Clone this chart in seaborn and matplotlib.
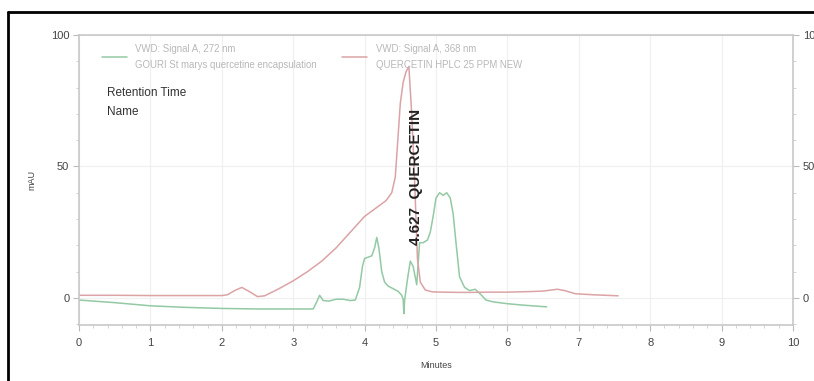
import numpy as np
import pandas as pd
import matplotlib
matplotlib.use("Agg")
import matplotlib.pyplot as plt
from matplotlib.ticker import MultipleLocator
from matplotlib.lines import Line2D
import seaborn as sns

# ---- data ----
t_272 = [0, 0.5, 1.0, 1.5, 2.0, 2.5, 3.0, 3.28, 3.33, 3.37, 3.42, 3.5, 3.6, 3.7, 3.8, 3.87,
         3.93, 3.97, 4.0, 4.05, 4.1, 4.14, 4.17, 4.2, 4.24, 4.28, 4.33, 4.4, 4.47, 4.52,
         4.54, 4.55, 4.56, 4.6, 4.64, 4.68, 4.73, 4.77, 4.82, 4.88, 4.92, 4.96, 5.0, 5.05,
         5.1, 5.15, 5.2, 5.24, 5.28, 5.33, 5.4, 5.47, 5.55, 5.62, 5.7, 5.8, 6.0, 6.2, 6.4, 6.55]
v_272 = [-0.8, -1.8, -3.0, -3.6, -4.0, -4.2, -4.2, -4.2, -1.5, 1.0, -1.0, -1.2, -0.5, -0.5,
         -1.0, -0.8, 4, 12, 15, 15.5, 16, 19, 23, 19, 10, 6, 4.5, 3.5, 2.5, 1, -0.5, -6, -1,
         7, 14, 12, 5, 21, 21, 22, 25, 31, 38, 40, 39, 40, 38, 32, 21, 8, 4, 2.8, 3.3, 1.5,
         -0.8, -1.5, -2.2, -2.7, -3.1, -3.4]

t_368 = [0, 0.5, 1.0, 1.5, 2.0, 2.08, 2.18, 2.28, 2.38, 2.5, 2.6, 2.8, 3.0, 3.2, 3.4, 3.6,
         3.8, 4.0, 4.15, 4.3, 4.38, 4.43, 4.47, 4.5, 4.54, 4.58, 4.62, 4.66, 4.7, 4.74, 4.78,
         4.85, 4.95, 5.1, 5.3, 5.5, 5.7, 6.0, 6.3, 6.5, 6.7, 6.8, 6.95, 7.2, 7.55]
v_368 = [1.0, 1.0, 0.9, 0.9, 0.9, 1.2, 2.8, 4.0, 2.5, 0.5, 0.8, 3.5, 6.5, 10, 14, 19, 25, 31,
         34, 37, 40, 46, 62, 74, 82, 86, 88, 70, 45, 15, 6, 3, 2.3, 2.2, 2.1, 2.1, 2.2, 2.2,
         2.4, 2.6, 3.3, 2.8, 1.6, 1.2, 0.8]

series_names = ["VWD: Signal A, 272 nm\nGOURI St marys quercetine encapsulation",
                "VWD: Signal A, 368 nm\nQUERCETIN HPLC 25 PPM NEW"]
series_colors = ["#93c9a4", "#dba3a6"]

x_ticks = list(range(0, 11))
y_ticks = [0, 50, 100]
peak_label = "4.627  QUERCETIN"

df = pd.concat([
    pd.DataFrame({"Minutes": t_272, "mAU": v_272, "series": series_names[0]}),
    pd.DataFrame({"Minutes": t_368, "mAU": v_368, "series": series_names[1]}),
], ignore_index=True)

sns.set_theme(style="white")
plt.rcParams["font.family"] = ["Liberation Sans", "DejaVu Sans"]

fig = plt.figure(figsize=(8.14, 3.81), dpi=100)
ax = fig.add_axes([79/814, 1-325/381, (793-79)/814, (325-35)/381])

sns.lineplot(data=df, x="Minutes", y="mAU", hue="series", palette=series_colors,
             sort=False, estimator=None, linewidth=1.1, ax=ax, legend=False)

ax.set_xlim(0, 10)
ax.set_ylim(-10.3, 100)
ax.set_xticks(x_ticks)
ax.set_yticks(y_ticks)
ax.xaxis.set_minor_locator(MultipleLocator(0.2))
ax.yaxis.set_minor_locator(MultipleLocator(10))

for s in ax.spines.values():
    s.set_color("#c8c8c8")
    s.set_linewidth(1.2)

ax.grid(True, which="major", color="#f0f0f0", linewidth=0.9)
ax.set_axisbelow(True)

ax.tick_params(axis="both", which="major", direction="out", length=4, width=0.8,
               color="#bbbbbb", labelcolor="#444444", labelsize=8)
ax.tick_params(axis="both", which="minor", direction="out", length=2, width=0.6,
               color="#cccccc")
ax.tick_params(axis="y", which="both", left=True, right=True, labelleft=True,
               labelright=True, pad=3)
ax.tick_params(axis="x", which="both", bottom=True, pad=5)

ax.set_xlabel("Minutes", fontsize=6.5, color="#444444", labelpad=10)
ax.set_ylabel("mAU", fontsize=6.5, color="#444444", labelpad=10)

# legend
handles = [Line2D([0], [0], color=c, linewidth=1.1) for c in series_colors]
leg = ax.legend(handles, series_names, ncol=2, loc="upper left",
                bbox_to_anchor=(0.02, 1.0), frameon=False, fontsize=6.9,
                handlelength=2.6, handletextpad=0.9, columnspacing=2.6,
                labelcolor="#b8b8b8")
for txt in leg.get_texts():
    txt.set_linespacing(1.75)

ax.text(0.039, 0.80, "Retention Time", transform=ax.transAxes, fontsize=8.5,
        color="#333333", va="center")
ax.text(0.039, 0.735, "Name", transform=ax.transAxes, fontsize=8.5,
        color="#333333", va="center")

ax.text(4.72, 20, peak_label, rotation=90, ha="center", va="bottom",
        fontsize=11, fontweight="semibold", color="#222222")

# black frame of the cropped screenshot
fig.add_artist(Line2D([8/814, 1.0], [1-12/381, 1-12/381], color="black", linewidth=2,
                      transform=fig.transFigure))
fig.add_artist(Line2D([8/814, 8/814], [0, 1-12/381], color="black", linewidth=2,
                      transform=fig.transFigure))

fig.savefig("out.png", dpi=100)
